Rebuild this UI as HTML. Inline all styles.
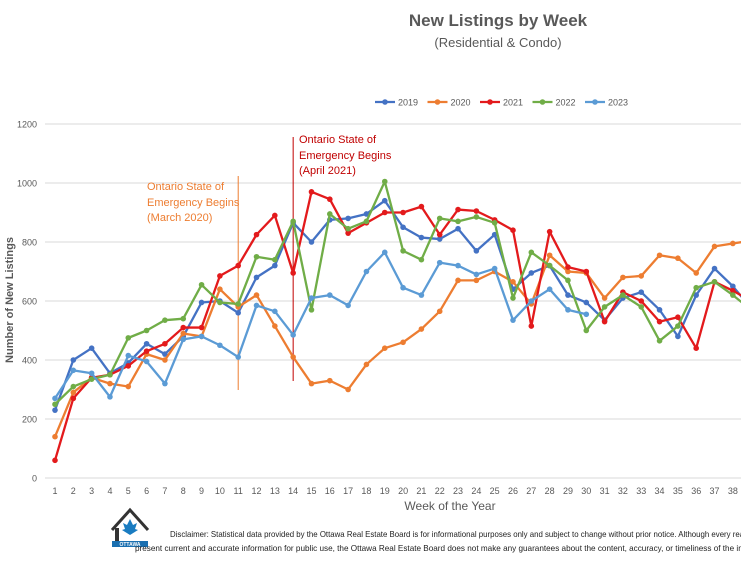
<!DOCTYPE html>
<html><head><meta charset="utf-8"><style>
body{margin:0;background:#fff;width:741px;height:556px;overflow:hidden;font-family:"Liberation Sans",sans-serif}
</style></head><body>
<svg id="chart" width="741" height="556" xmlns="http://www.w3.org/2000/svg" font-family="Liberation Sans, sans-serif">
<text x="498" y="26" text-anchor="middle" font-size="17" font-weight="bold" fill="#595959">New Listings by Week</text>
<text x="498" y="47" text-anchor="middle" font-size="13" fill="#595959">(Residential &amp; Condo)</text>
<g id="grid"></g><g id="ann"></g><g id="series"></g><g id="legend"></g>
<text transform="translate(13,300) rotate(-90)" text-anchor="middle" font-size="11" font-weight="bold" fill="#595959">Number of New Listings</text>
<text x="450" y="510" text-anchor="middle" font-size="12" fill="#595959">Week of the Year</text>
<g>
<path d="M112 530 L130 510 L148 530" fill="none" stroke="#333" stroke-width="3"/>
<rect x="115" y="528" width="4" height="14" fill="#333"/>
<path d="M130 519 l3 6 l4-2 l-2 6 l3 1 l-8 5 l-8-5 l3-1 l-2-6 l4 2z" fill="#1a7cc1"/>
<rect x="112" y="541" width="36" height="6" fill="#1a6fb0"/>
<text x="130" y="546" text-anchor="middle" font-size="5" fill="#fff" font-weight="bold">OTTAWA</text>
</g>
<text x="170" y="537" font-size="8.4" fill="#222" textLength="578" lengthAdjust="spacingAndGlyphs">Disclaimer: Statistical data provided by the Ottawa Real Estate Board is for informational purposes only and subject to change without prior notice. Although every reas</text>
<text x="135" y="551" font-size="8.4" fill="#222" textLength="610" lengthAdjust="spacingAndGlyphs">present current and accurate information for public use, the Ottawa Real Estate Board does not make any guarantees about the content, accuracy, or timeliness of the inf</text>
</svg>
<script>
const weeks=[1,2,3,4,5,6,7,8,9,10,11,12,13,14,15,16,17,18,19,20,21,22,23,24,25,26,27,28,29,30,31,32,33,34,35,36,37,38,39];
const yTicks=[0,200,400,600,800,1000,1200];
const seriesNames=["2019","2020","2021","2022","2023"];
const s2019=[230,400,440,355,390,455,420,480,595,600,560,680,720,865,800,875,880,895,940,850,815,810,845,770,825,640,695,720,620,595,535,610,630,570,480,620,710,650,575];
const s2020=[140,290,340,320,310,420,400,490,480,640,580,620,515,410,320,330,300,385,440,460,505,565,670,670,700,665,590,755,700,695,610,680,685,755,745,695,785,795,805];
const s2021=[60,270,340,350,380,430,455,510,510,685,720,825,890,695,970,945,830,865,900,900,920,825,910,905,875,840,515,835,715,700,530,630,600,530,545,440,665,635,600];
const s2022=[250,310,335,350,475,500,535,540,655,595,590,750,740,870,570,895,845,870,1005,770,740,880,870,885,865,610,765,720,670,500,580,620,580,465,515,645,665,620,570];
const s2023=[270,365,355,275,415,395,320,470,480,450,410,585,565,485,610,620,585,700,765,645,620,730,720,690,710,535,600,640,570,555];
const colors=["#4472C4","#ED7D31","#E31A1C","#70AD47","#5B9BD5"];
const NS="http://www.w3.org/2000/svg";
const X=w=>55+(w-1)*18.32, Y=v=>478-v*0.295;
function mk(t,a,p){const e=document.createElementNS(NS,t);for(const k in a)e.setAttribute(k,a[k]);p.appendChild(e);return e;}
const grid=document.getElementById('grid');
yTicks.forEach(v=>{
 const l=mk('line',{x1:45,x2:741,y1:Y(v),y2:Y(v),stroke:'#d9d9d9','stroke-width':1},grid);
 
 
 const t=mk('text',{x:37,y:Y(v)+3.5,'text-anchor':'end','font-size':9,fill:'#595959'},grid);t.textContent=v;
 
 
});
weeks.forEach(w=>{
 const t=mk('text',{x:X(w),y:494,'text-anchor':'middle','font-size':9,fill:'#595959'},grid);t.textContent=w;
 
 
});
const ann=document.getElementById('ann');
const l1=mk('line',{x1:X(11),x2:X(11),y1:176,y2:390,stroke:'#ED7D31','stroke-width':1},ann);


const l2=mk('line',{x1:X(14),x2:X(14),y1:137,y2:381,stroke:'#C00000','stroke-width':1},ann);


[["Ontario State of",190],["Emergency Begins",206],["(March 2020)",221]].forEach(([s,y])=>{const t=mk('text',{x:147,y:y,'font-size':11,fill:'#ED7D31'},ann);t.textContent=s;
 
 });
[["Ontario State of",143],["Emergency Begins",159],["(April 2021)",174]].forEach(([s,y])=>{const t=mk('text',{x:299,y:y,'font-size':11,fill:'#C00000'},ann);t.textContent=s;
 
 });
const ser=document.getElementById('series');
const clip=mk('clipPath',{id:'cp'},ser);mk('rect',{x:0,y:0,width:741,height:480},clip);
[s2019,s2020,s2021,s2022,s2023].forEach((d,i)=>{
 const g=mk('g',{'clip-path':'url(#cp)'},ser);
 
 
 const pts=d.map((v,j)=>X(weeks[j])+','+Y(v)).join(' ');
 const pl=mk('polyline',{points:pts,fill:'none',stroke:colors[i],'stroke-width':2.3,'stroke-linejoin':'round'},g);
 
 
 d.forEach((v,j)=>{const c=mk('circle',{cx:X(weeks[j]),cy:Y(v),r:2.8,fill:colors[i]},g);
  
  });
});
const lg=document.getElementById('legend');
seriesNames.forEach((n,i)=>{
 const x=375+i*52.5;
 const g=mk('g',{},lg);
 
 
 mk('line',{x1:x,x2:x+20,y1:102,y2:102,stroke:colors[i],'stroke-width':2.3},g);
 mk('circle',{cx:x+10,cy:102,r:2.8,fill:colors[i]},g);
 const t=mk('text',{x:x+23,y:105.5,'font-size':9,fill:'#595959'},g);t.textContent=n;
});
</script>
</body></html>
